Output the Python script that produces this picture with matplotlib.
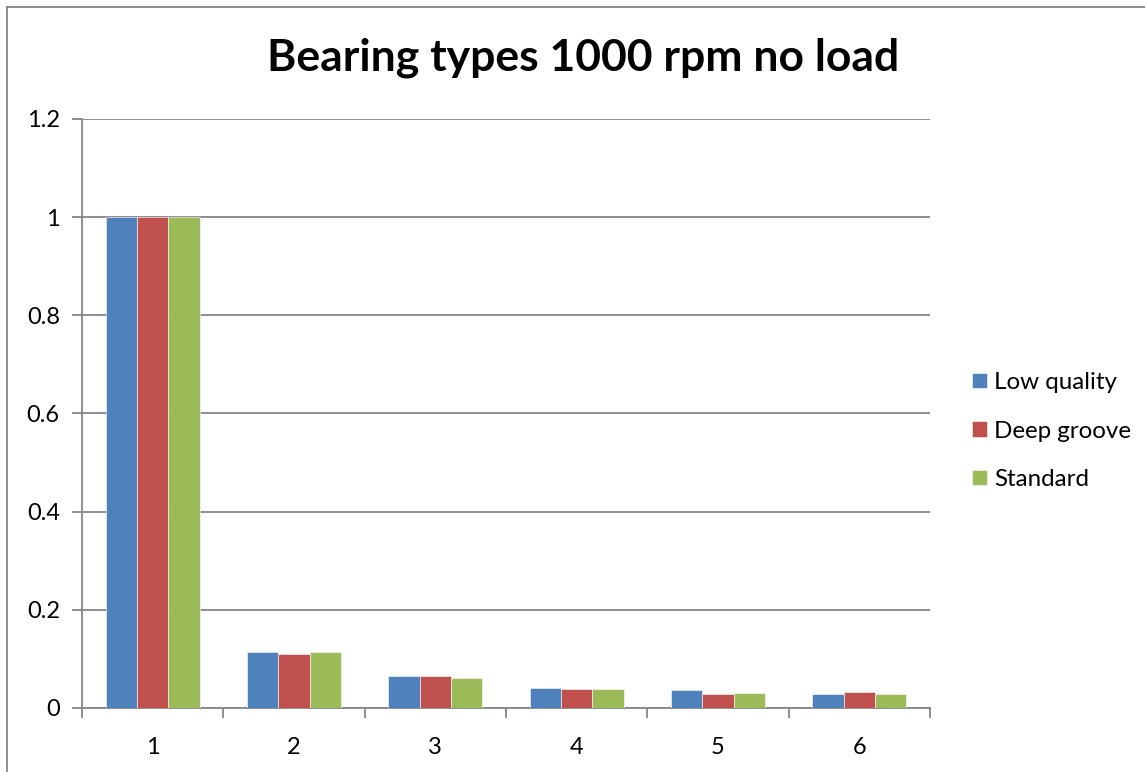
import matplotlib
matplotlib.use('Agg')
import matplotlib.pyplot as plt
from matplotlib.lines import Line2D
import numpy as np

plt.rcParams['font.family'] = ['Lato', 'DejaVu Sans']

harmonics = [1, 2, 3, 4, 5, 6]
low_quality = [1.0, 0.114, 0.066, 0.041, 0.037, 0.028]
deep_groove = [1.0, 0.111, 0.065, 0.038, 0.029, 0.032]
standard = [1.0, 0.114, 0.061, 0.039, 0.030, 0.028]

series = [
    ('Low quality', low_quality, '#4F81BD'),
    ('Deep groove', deep_groove, '#C0504D'),
    ('Standard', standard, '#9BBB59'),
]

grey = '#868686'

fig = plt.figure(figsize=(11.45, 7.72), dpi=100)

# chart border (left and top edges visible)
fig.add_artist(Line2D([7/1145, 7/1145], [0, 1 - 7/772], color=grey, lw=1.3))
fig.add_artist(Line2D([7/1145, 1], [1 - 7/772, 1 - 7/772], color=grey, lw=1.3))

ax = fig.add_axes([82/1145, 64/772, 848/1145, 589/772])

x = np.arange(len(harmonics)) + 1
w = 1 / 4.5
for i, (name, vals, col) in enumerate(series):
    ax.bar(x + (i - 1) * w, vals, width=w, color=col, label=name,
           edgecolor='white', linewidth=0.4, zorder=3)

ax.set_xlim(0.5, len(harmonics) + 0.5)
ax.set_ylim(0, 1.2)
ax.set_yticks(np.arange(0, 1.21, 0.2))
ax.set_yticklabels(['0', '0.2', '0.4', '0.6', '0.8', '1', '1.2'])
ax.yaxis.grid(True, color=grey, lw=1.3, zorder=0)

ax.set_xticks(np.arange(0.5, len(harmonics) + 1, 1))
ax.set_xticklabels([])
ax.set_xticks(x, minor=True)
ax.set_xticklabels([str(h) for h in harmonics], minor=True)
ax.tick_params(axis='x', which='major', length=7, width=1.3, color=grey, direction='out')
ax.tick_params(axis='x', which='minor', length=0, pad=21, labelsize=17)
ax.tick_params(axis='y', length=7, width=1.3, color=grey, pad=9, labelsize=17)

for s in ['top', 'right']:
    ax.spines[s].set_visible(False)
for s in ['left', 'bottom']:
    ax.spines[s].set_color(grey)
    ax.spines[s].set_linewidth(1.3)

fig.text(583/1145, 1 - 58/772, 'Bearing types 1000 rpm no load',
         ha='center', va='center', fontsize=32, fontweight='bold')

fig.legend(loc='center left', bbox_to_anchor=(953/1145, 1 - 431/772),
           frameon=False, fontsize=17.4, handlelength=0.6, handleheight=0.6,
           handletextpad=0.3, labelspacing=1.15, borderpad=0.3)

fig.savefig('out.png', dpi=100)
